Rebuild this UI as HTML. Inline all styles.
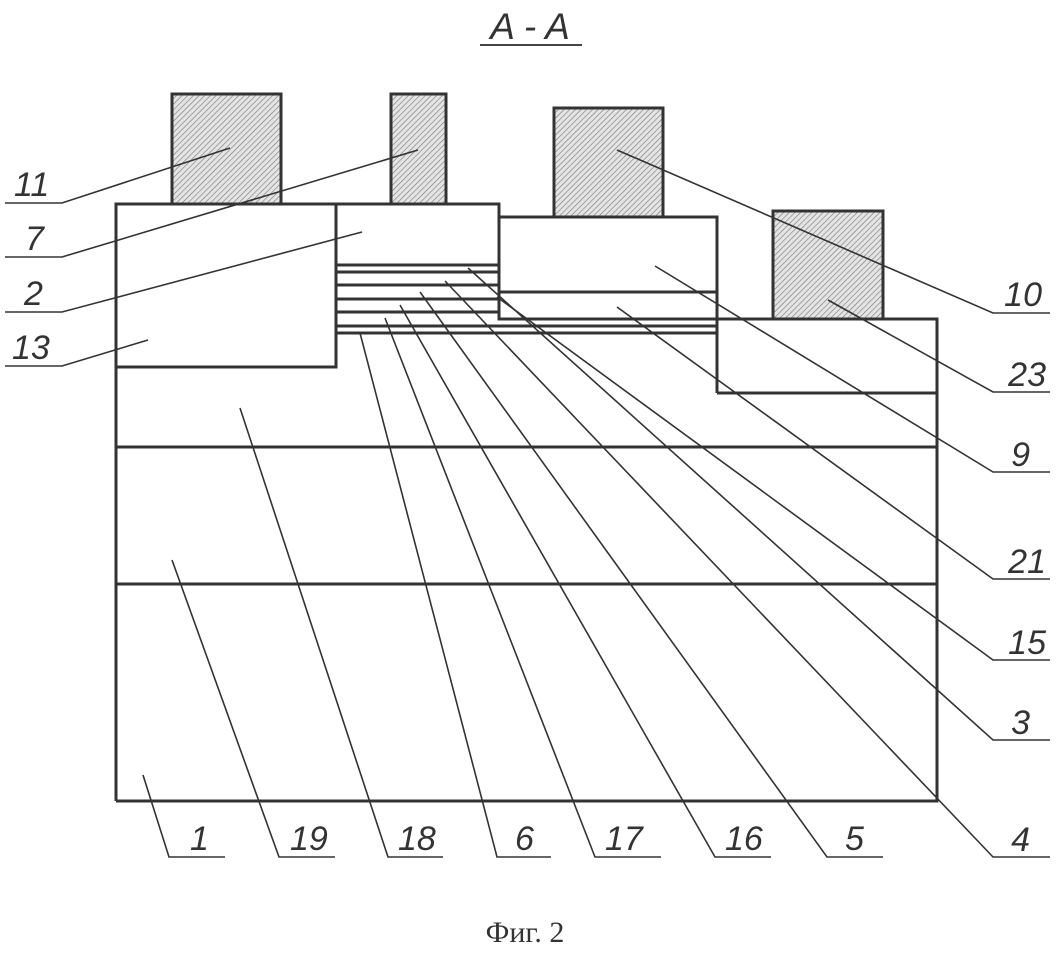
<!DOCTYPE html>
<html><head><meta charset="utf-8"><style>
html,body{margin:0;padding:0;background:#fff;}
svg{display:block;}
text{font-family:"Liberation Sans",sans-serif;font-style:italic;fill:#333;}
</style></head><body>
<svg width="1061" height="956" viewBox="0 0 1061 956" xmlns="http://www.w3.org/2000/svg">
<defs>
<pattern id="h" patternUnits="userSpaceOnUse" width="4" height="4" patternTransform="rotate(45)">
<rect width="4" height="4" fill="#e4e4e4"/>
<line x1="0" y1="0" x2="0" y2="4" stroke="#777" stroke-width="1.2"/>
</pattern>
</defs>
<text x="530" y="39" font-size="37" text-anchor="middle">A - A</text>
<line x1="480" y1="45" x2="582" y2="45" stroke="#444" stroke-width="2"/>

<g fill="url(#h)" stroke="#333" stroke-width="3">
<rect x="172" y="94" width="109" height="110"/>
<rect x="391" y="94" width="55" height="110"/>
<rect x="554" y="108" width="109" height="109"/>
<rect x="773" y="211" width="110" height="108"/>
</g>

<g stroke="#333" stroke-width="3" fill="none">
<path d="M116,801 V204 H499 V319 H717 V217 H499 M717,319 H937 V801 H116"/>
<path d="M116,367 H336 V204"/>
<line x1="717" y1="319" x2="717" y2="393"/>
<line x1="717" y1="393" x2="937" y2="393"/>
<line x1="116" y1="447" x2="937" y2="447"/>
<line x1="116" y1="584" x2="937" y2="584"/>
<line x1="499" y1="292" x2="717" y2="292"/>
<line x1="336" y1="265" x2="499" y2="265"/>
<line x1="336" y1="272" x2="499" y2="272"/>
<line x1="336" y1="285" x2="499" y2="285"/>
<line x1="336" y1="299" x2="499" y2="299"/>
<line x1="336" y1="312" x2="499" y2="312"/>
<line x1="336" y1="326" x2="717" y2="326"/>
<line x1="336" y1="333" x2="717" y2="333"/>
<line x1="336" y1="204" x2="336" y2="333"/>
</g>

<g stroke="#333" stroke-width="1.6" fill="none">
<path d="M5,203 H62 L230,148"/>
<path d="M5,257 H62 L418,150"/>
<path d="M5,312 H62 L362,232"/>
<path d="M5,366 H62 L148,340"/>
<path d="M1050,313 H993 L617,150"/>
<path d="M1050,392 H993 L828,300"/>
<path d="M1050,472 H993 L655,266"/>
<path d="M1050,579 H993 L617,307"/>
<path d="M1050,660 H993 L497,297"/>
<path d="M1050,740 H993 L468,268"/>
<path d="M1050,857 H993 L445,281"/>
<path d="M225,857 H169 L143,775"/>
<path d="M335,857 H279 L172,560"/>
<path d="M443,857 H388 L240,408"/>
<path d="M551,857 H497 L360,333"/>
<path d="M661,857 H595 L385,318"/>
<path d="M771,857 H715 L400,305"/>
<path d="M883,857 H827 L420,292"/>
</g>

<g font-size="34">
<text x="14" y="196">11</text>
<text x="25" y="250">7</text>
<text x="24" y="305">2</text>
<text x="12" y="359">13</text>
<text x="1042" y="306" text-anchor="end">10</text>
<text x="1046" y="386" text-anchor="end">23</text>
<text x="1030" y="466" text-anchor="end">9</text>
<text x="1046" y="573" text-anchor="end">21</text>
<text x="1046" y="654" text-anchor="end">15</text>
<text x="1030" y="734" text-anchor="end">3</text>
<text x="1030" y="851" text-anchor="end">4</text>
<text x="190" y="850">1</text>
<text x="290" y="850">19</text>
<text x="398" y="850">18</text>
<text x="515" y="850">6</text>
<text x="605" y="850">17</text>
<text x="725" y="850">16</text>
<text x="845" y="850">5</text>
</g>
<text x="525" y="942" font-size="30" text-anchor="middle" style="font-family:'Liberation Serif',serif;font-style:normal">Фиг. 2</text>
</svg>
</body></html>
